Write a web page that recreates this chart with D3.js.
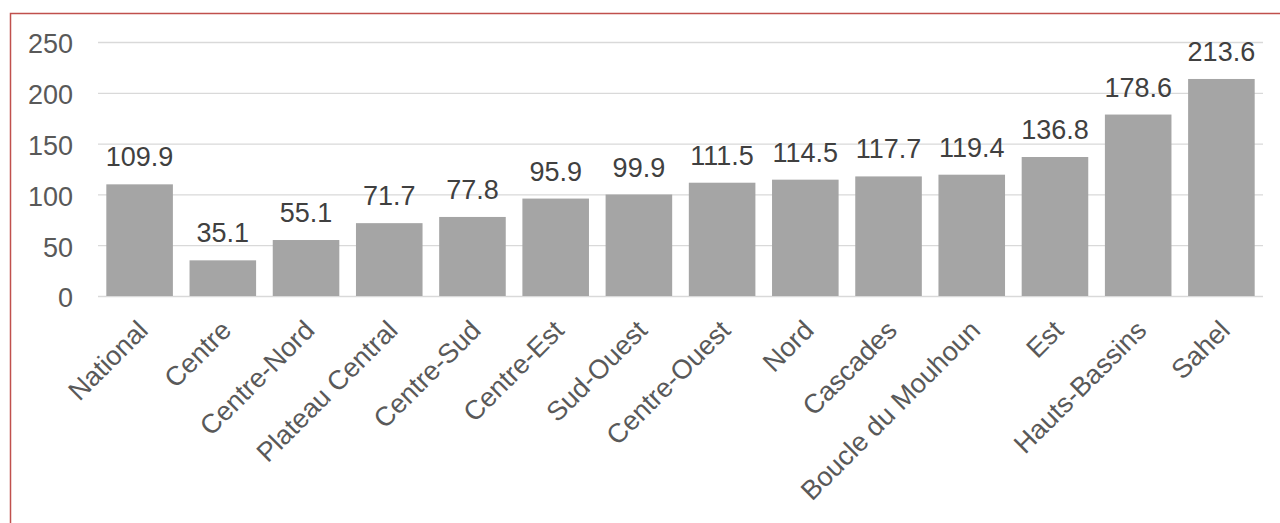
<!DOCTYPE html>
<html>
<head>
<meta charset="utf-8">
<script src="https://cdn.jsdelivr.net/npm/d3@7"></script>
<style>
  html, body { margin: 0; padding: 0; background: #fff; }
  svg { display: block; font-family: "Liberation Sans", Arial, sans-serif; }
</style>
</head>
<body>
<svg id="chart" width="1280" height="523"></svg>
<script>
// Regions and their values
const regions = ["National", "Centre", "Centre-Nord", "Plateau Central", "Centre-Sud", "Centre-Est",
  "Sud-Ouest", "Centre-Ouest", "Nord", "Cascades", "Boucle du Mouhoun", "Est", "Hauts-Bassins", "Sahel"];
const values = [109.9, 35.1, 55.1, 71.7, 77.8, 95.9, 99.9, 111.5, 114.5, 117.7, 119.4, 136.8, 178.6, 213.6];
const yTicks = [0, 50, 100, 150, 200, 250];

const FONT = "Liberation Sans, Arial, sans-serif";
const FS = 27;

const svg = d3.select("#chart");

// outer frame
svg.append("rect")
  .attr("x", 10.5).attr("y", 13.5)
  .attr("width", 1300).attr("height", 600)
  .attr("fill", "none").attr("stroke", "#C0504D").attr("stroke-width", 1.5);

const plotL = 98, plotR = 1263, plotT = 42, plotB = 296;

const x = d3.scaleBand().domain(regions).range([plotL, plotR]).paddingInner(0.2).paddingOuter(0.1);
const y = d3.scaleLinear().domain([0, 250]).range([plotB, plotT]);

// gridlines
svg.append("g").selectAll("line").data(yTicks).join("line")
  .attr("x1", plotL).attr("x2", plotR)
  .attr("y1", d => y(d) + 0.5).attr("y2", d => y(d) + 0.5)
  .attr("stroke", "#D9D9D9").attr("stroke-width", 1.3);

// y tick labels
const yAxis = d3.axisLeft(y).tickValues(yTicks).tickSize(0).tickPadding(25);
const gy = svg.append("g").attr("transform", `translate(${plotL},0)`).call(yAxis);
gy.select(".domain").remove();
gy.attr("font-size", FS).attr("font-family", FONT);
gy.selectAll("text").attr("fill", "#595959").attr("dy", "0.4em");

// bars
svg.append("g").selectAll("rect").data(values).join("rect")
  .attr("x", (d, i) => x(regions[i]))
  .attr("width", x.bandwidth())
  .attr("y", d => y(d))
  .attr("height", d => y(0) - y(d))
  .attr("fill", "#A5A5A5");

// value labels
svg.append("g").selectAll("text").data(values).join("text")
  .attr("x", (d, i) => x(regions[i]) + x.bandwidth() / 2)
  .attr("y", d => y(d) - 18)
  .attr("text-anchor", "middle")
  .attr("font-size", FS)
  .attr("font-family", FONT)
  .attr("fill", "#404040")
  .text(d => d.toFixed(1));

// category labels
const xAxis = d3.axisBottom(x).tickSize(0).tickPadding(0);
const gx = svg.append("g").attr("transform", `translate(0,${plotB})`).call(xAxis);
gx.select(".domain").remove();
gx.attr("font-size", FS).attr("font-family", FONT);
gx.selectAll("text")
  .attr("fill", "#595959")
  .attr("text-anchor", "end")
  .attr("dy", null)
  .attr("y", 0)
  .attr("transform", "translate(10,36) rotate(-45)");
</script>
</body>
</html>
